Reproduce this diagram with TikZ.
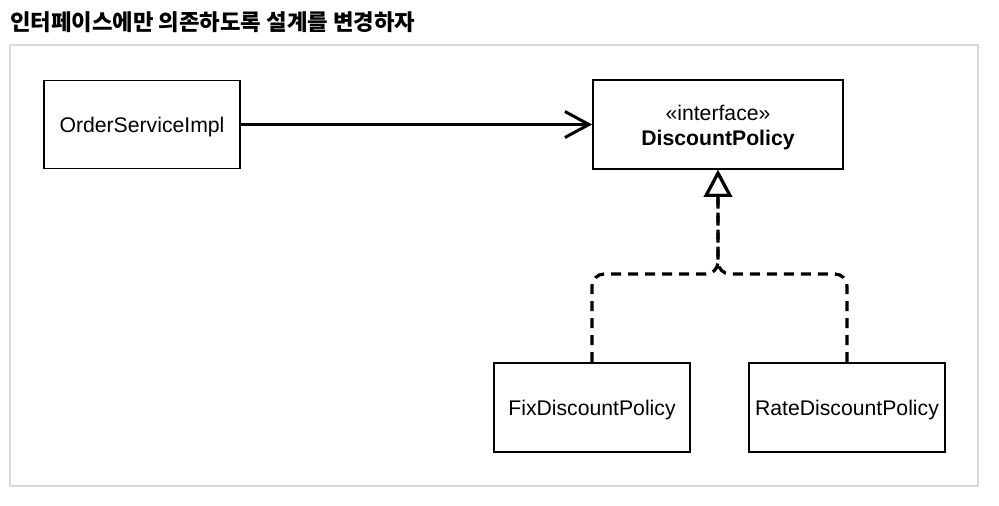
\documentclass[tikz,border=0pt]{standalone}
\usepackage{fontspec}
\setmainfont{Liberation Sans}
\newfontfamily\krfont{Noto Sans CJK KR}
\usetikzlibrary{arrows.meta}
\definecolor{framegray}{HTML}{D9D9D9}
\newcommand{\lowertext}[1]{\raisebox{-3pt}[\height][\depth]{#1}}
\tikzset{
  umlbox/.style={draw=black, line width=1.8pt, minimum width=196pt, minimum height=88pt, inner sep=0pt, font=\fontsize{21.2}{25}\selectfont, align=center},
  assoc/.style={line width=3pt, -{Straight Barb[length=24pt,width=26pt,line width=3pt]}},
  realize/.style={line width=3.2pt, dash pattern=on 10pt off 7pt, rounded corners=12pt, -{Triangle[open,length=27pt,width=28pt,line width=3pt]}}
}
\begin{document}
\begin{tikzpicture}[x=1pt,y=-1pt]
\useasboundingbox (0,0) rectangle (999,506);
\node[anchor=west, inner sep=0pt, font=\krfont\bfseries\fontsize{22.3}{26}\selectfont] (title) at (10,22) {인터페이스에만 의존하도록 설계를 변경하자};
\draw[framegray, line width=2pt] (10,45) rectangle (978,486);
\node[umlbox] (osi) at (142,124.5) {\lowertext{OrderServiceImpl}};
\node[umlbox, minimum width=250pt, minimum height=89pt] (dp) at (718,124.5) {\lowertext{«interface»}\\\lowertext{\textbf{DiscountPolicy}}};
\node[umlbox, minimum height=89pt] (fix) at (592,407.5) {\lowertext{FixDiscountPolicy}};
\node[umlbox, minimum height=89pt] (rate) at (847,407.5) {\lowertext{RateDiscountPolicy}};
\coordinate (j) at (718,274);
\draw[assoc] (osi.east) -- (dp.west);
\draw[realize] (fix.north) |- (j) -- (dp.south);
\draw[realize] (rate.north) |- (j) -- (dp.south);
\end{tikzpicture}
\end{document}
